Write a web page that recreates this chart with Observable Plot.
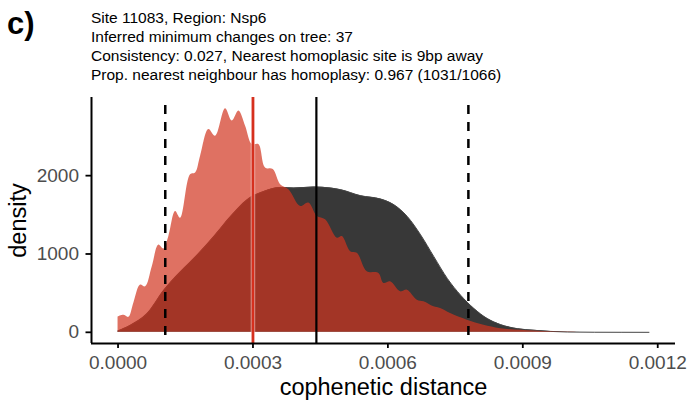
<!DOCTYPE html>
<html>
<head>
<meta charset="utf-8">
<script src="https://cdn.jsdelivr.net/npm/d3@7"></script>
<script src="https://cdn.jsdelivr.net/npm/@observablehq/plot@0.6"></script>
<style>
  body { margin: 0; background: #fff; }
  #fig { position: relative; width: 688px; height: 406px; font-family: "Liberation Sans", Arial, Helvetica, sans-serif; color: #000; }
  #head { position: relative; width: 688px; height: 90px; }
  #tag { position: absolute; left: 7px; top: 8px; font-size: 31px; font-weight: bold; line-height: 1; }
  #title { position: absolute; left: 91px; top: 8px; font-size: 15.5px; line-height: 19px; white-space: nowrap; }
  #chart svg { display: block; }
</style>
</head>
<body>
<div id="fig">
  <div id="head">
    <div id="tag">c)</div>
    <div id="title"></div>
  </div>
  <div id="chart"></div>
</div>
<script>
// ---- data ----
const titleLines = [
  "Site 11083, Region: Nsp6",
  "Inferred minimum changes on tree: 37",
  "Consistency: 0.027, Nearest homoplasic site is 9bp away",
  "Prop. nearest neighbour has homoplasy: 0.967 (1031/1066)"
];

// black (all sites) density
const blackX = [0, 0.0000278, 0.0000649, 0.0001019, 0.0001390, 0.0001761, 0.0002131, 0.0002502, 0.0002873,
  0.0003243, 0.0003614, 0.0003910, 0.0004355, 0.0004726, 0.0004948, 0.0005393, 0.0005838, 0.0006134,
  0.0006432, 0.0006728, 0.0007023, 0.0007321, 0.0007617, 0.0007913, 0.0008211, 0.0008507, 0.0008878,
  0.0009247, 0.0009990, 0.0010600, 0.0011805];
const blackDensity = [17, 90, 239, 538, 773, 987, 1222, 1478, 1692,
  1799, 1850, 1842, 1855, 1842, 1821, 1744, 1701, 1628,
  1478, 1244, 965, 688, 474, 304, 175, 98, 47,
  26, 4, 1, 0];

// red (homoplasic neighbours) density
const redX = [0, 0.0000129, 0.0000240, 0.0000351, 0.0000500, 0.0000612, 0.0000761, 0.0000907, 0.0001019,
  0.0001130, 0.0001279, 0.0001390, 0.0001612, 0.0001724, 0.0001835, 0.0002019, 0.0002168, 0.0002391,
  0.0002540, 0.0002687, 0.0002836, 0.0002985, 0.0003131, 0.0003280, 0.0003452, 0.0003614, 0.0003799,
  0.0004059, 0.0004243, 0.0004430, 0.0004615, 0.0004875, 0.0004986, 0.0005171, 0.0005320, 0.0005542,
  0.0005800, 0.0005911, 0.0006060, 0.0006283, 0.0006432, 0.0006654, 0.0006801, 0.0007023, 0.0007172,
  0.0007394, 0.0007766, 0.0008135, 0.0008507, 0.0009247, 0.0009990, 0.0010508];
const redDensity = [196, 218, 192, 372, 603, 581, 838, 1115, 1064,
  1222, 1543, 1457, 2013, 2034, 2248, 2590, 2504, 2855,
  2697, 2825, 2632, 2397, 2397, 2098, 2077, 1885, 1821,
  1607, 1650, 1478, 1436, 1201, 1222, 1030, 1009, 773,
  752, 624, 645, 517, 538, 410, 389, 325, 304,
  239, 154, 90, 47, 17, 3, 0];

const dashedLines = [0.000105, 0.000779];
const solidBlackLine = 0.000441;
const redLine = 0.0003;

const xTicks = [0, 0.0003, 0.0006, 0.0009, 0.0012];
const yTicks = [0, 1000, 2000];
const xLabel = "cophenetic distance";
const yLabel = "density";

// ---- build ----
document.getElementById("title").innerHTML = titleLines.map(t => `<div>${t}</div>`).join("");

const black = blackX.map((x, i) => ({x, y: blackDensity[i]}));
const red = redX.map((x, i) => ({x, y: redDensity[i]}));

// ggplot-like 5% expansion of the data range
const xMin = Math.min(d3.min(blackX), d3.min(redX)), xMax = Math.max(d3.max(blackX), d3.max(redX));
const yMax = Math.max(d3.max(blackDensity), d3.max(redDensity));
const xPad = (xMax - xMin) * 0.05, yPad = yMax * 0.05;
const xDomain = [xMin - xPad, xMax + xPad];
const yDomain = [-yPad, yMax + yPad];

const font = '"Liberation Sans", Arial, Helvetica, sans-serif';

const chart = Plot.plot({
  width: 688,
  height: 316,
  marginTop: 7,
  marginBottom: 63,
  marginLeft: 91,
  marginRight: 13,
  style: {fontFamily: font, background: "white", overflow: "visible"},
  x: {domain: xDomain},
  y: {domain: yDomain},
  marks: [
    Plot.areaY(black, {x: "x", y: "y", fill: "#383838", curve: "monotone-x"}),
    Plot.lineY(black, {x: "x", y: "y", stroke: "#444", strokeWidth: 1, curve: "monotone-x"}),
    Plot.areaY(red, {x: "x", y: "y", fill: "#d2341f", fillOpacity: 0.7, curve: "catmull-rom"}),
    Plot.ruleX(dashedLines, {stroke: "black", strokeWidth: 2.5, strokeDasharray: "9,8", strokeDashoffset: 9}),
    Plot.ruleX([solidBlackLine], {stroke: "black", strokeWidth: 2.2}),
    Plot.ruleX([redLine], {stroke: "white", strokeWidth: 4.4, strokeOpacity: 0.6}),
    Plot.ruleX([redLine], {stroke: "#d6301e", strokeWidth: 2.8}),
    Plot.ruleY([yDomain[0]], {stroke: "black", strokeWidth: 2}),
    Plot.ruleX([xDomain[0]], {stroke: "black", strokeWidth: 2}),
    Plot.axisX({ticks: xTicks, tickFormat: d => d.toFixed(4), tickSize: 5, tickPadding: 7,
      stroke: "black", strokeWidth: 1.8, fill: "#4d4d4d", fontSize: 19, label: null}),
    Plot.axisY({ticks: yTicks, tickFormat: d => String(d), tickSize: 5.5, tickPadding: 7,
      stroke: "black", strokeWidth: 1.8, fill: "#4d4d4d", fontSize: 19, label: null}),
    Plot.text([xLabel], {frameAnchor: "bottom", lineAnchor: "bottom", textAnchor: "middle", dy: 51, fontSize: 23.5, fill: "black"}),
    Plot.text([yLabel], {frameAnchor: "left", lineAnchor: "middle", textAnchor: "middle", rotate: -90, dx: -73, fontSize: 23.5, fill: "black"})
  ]
});
document.getElementById("chart").appendChild(chart);
</script>
</body>
</html>
